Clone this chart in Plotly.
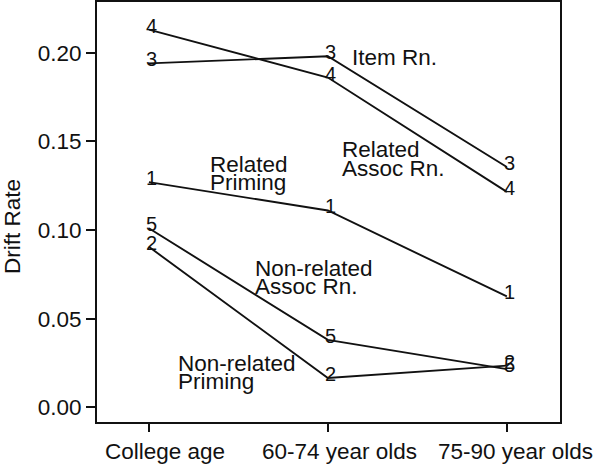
import plotly.graph_objects as go

# ---- data ----
categories = ["College age", "60-74 year olds", "75-90 year olds"]
x_pos = [1, 2, 3]
related_priming = [0.127, 0.111, 0.0625]          # series "1"
nonrelated_priming = [0.0905, 0.0165, 0.0235]     # series "2"
item_rn = [0.194, 0.198, 0.1355]                  # series "3"
related_assoc_rn = [0.213, 0.186, 0.1215]         # series "4"
nonrelated_assoc_rn = [0.101, 0.038, 0.0215]      # series "5"
series_marks = ["1", "2", "3", "4", "5"]
series_values = [related_priming, nonrelated_priming, item_rn,
                 related_assoc_rn, nonrelated_assoc_rn]
y_ticks = [0.0, 0.05, 0.10, 0.15, 0.20]
y_title = "Drift Rate"

# ---- layout geometry ----
W, H = 600, 464
L, R, T, B = 97, 40, 2, 42
x_range = [0.71, 3.297]
y_range = [-0.0083, 0.2286]

FONT = "Liberation Sans, Arial, Helvetica, sans-serif"
INK = "#111111"
FS = 22.5

def px_to_x(px):
    return x_range[0] + (px - L) / (W - L - R) * (x_range[1] - x_range[0])

def py_to_y(py):
    return y_range[1] - (py - T) / (H - T - B) * (y_range[1] - y_range[0])

fig = go.Figure()
for vals in series_values:
    fig.add_trace(go.Scatter(x=x_pos, y=vals, mode="lines",
                             line=dict(color=INK, width=1.9),
                             showlegend=False, hoverinfo="skip"))

annotations = []
# digit labels at each point
for mark, vals in zip(series_marks, series_values):
    for xv, yv in zip(x_pos, vals):
        annotations.append(dict(x=xv, y=yv, xref="x", yref="y", text=mark,
                                showarrow=False, xanchor="center", yanchor="middle",
                                xshift=3, yshift=4,
                                font=dict(family=FONT, size=20, color=INK)))

# series name labels (text, left pixel, vertical pixel centre)
label_texts = ["Item Rn.", "Related", "Assoc Rn.", "Related", "Priming",
               "Non-related", "Assoc Rn.", "Non-related", "Priming"]
label_px = [352, 342, 342, 210, 210, 255, 255, 178, 178]
label_py = [55, 147.5, 166, 162.5, 180, 266, 284, 361.5, 379]
for t, lx, ly in zip(label_texts, label_px, label_py):
    annotations.append(dict(x=px_to_x(lx - 2), y=py_to_y(ly + 2), xref="x", yref="y",
                            text=t, showarrow=False, xanchor="left", yanchor="middle",
                            font=dict(family=FONT, size=FS, color=INK)))

# x category labels (placed as in reference)
cat_px_center = [165, 339, 515.5]
for c, cx in zip(categories, cat_px_center):
    annotations.append(dict(x=px_to_x(cx), y=0, xref="x", yref="paper",
                            yshift=-(451 - (H - B)),
                            text=c, showarrow=False, xanchor="center", yanchor="middle",
                            font=dict(family=FONT, size=FS, color=INK)))

# y axis title
annotations.append(dict(x=0, y=py_to_y(227), xref="paper", yref="y",
                        xshift=-(L - 12), text=y_title, textangle=-90,
                        showarrow=False, xanchor="center", yanchor="middle",
                        font=dict(family=FONT, size=FS, color=INK)))

fig.update_layout(
    width=W, height=H,
    margin=dict(l=L, r=R, t=T, b=B, autoexpand=False),
    paper_bgcolor="white", plot_bgcolor="white",
    annotations=annotations,
    font=dict(family=FONT, size=FS, color=INK),
    xaxis=dict(range=x_range, tickvals=x_pos, ticktext=categories,
               showticklabels=False, ticks="outside", ticklen=8, tickwidth=1.5,
               tickcolor=INK, showline=True, linecolor=INK, linewidth=2, mirror=True,
               showgrid=False, zeroline=False, automargin=False),
    yaxis=dict(range=y_range, tickvals=y_ticks, tickformat=".2f",
               ticks="outside", ticklen=9, tickwidth=1.5, tickcolor=INK,
               showline=True, linecolor=INK, linewidth=2, mirror=True,
               showgrid=False, zeroline=False, automargin=False,
               tickfont=dict(family=FONT, size=FS, color=INK)),
)

fig.write_html(
    "out.html",
    config={"displayModeBar": False},
    post_script="document.body.style.margin='0px';document.body.style.overflow='hidden';",
)
